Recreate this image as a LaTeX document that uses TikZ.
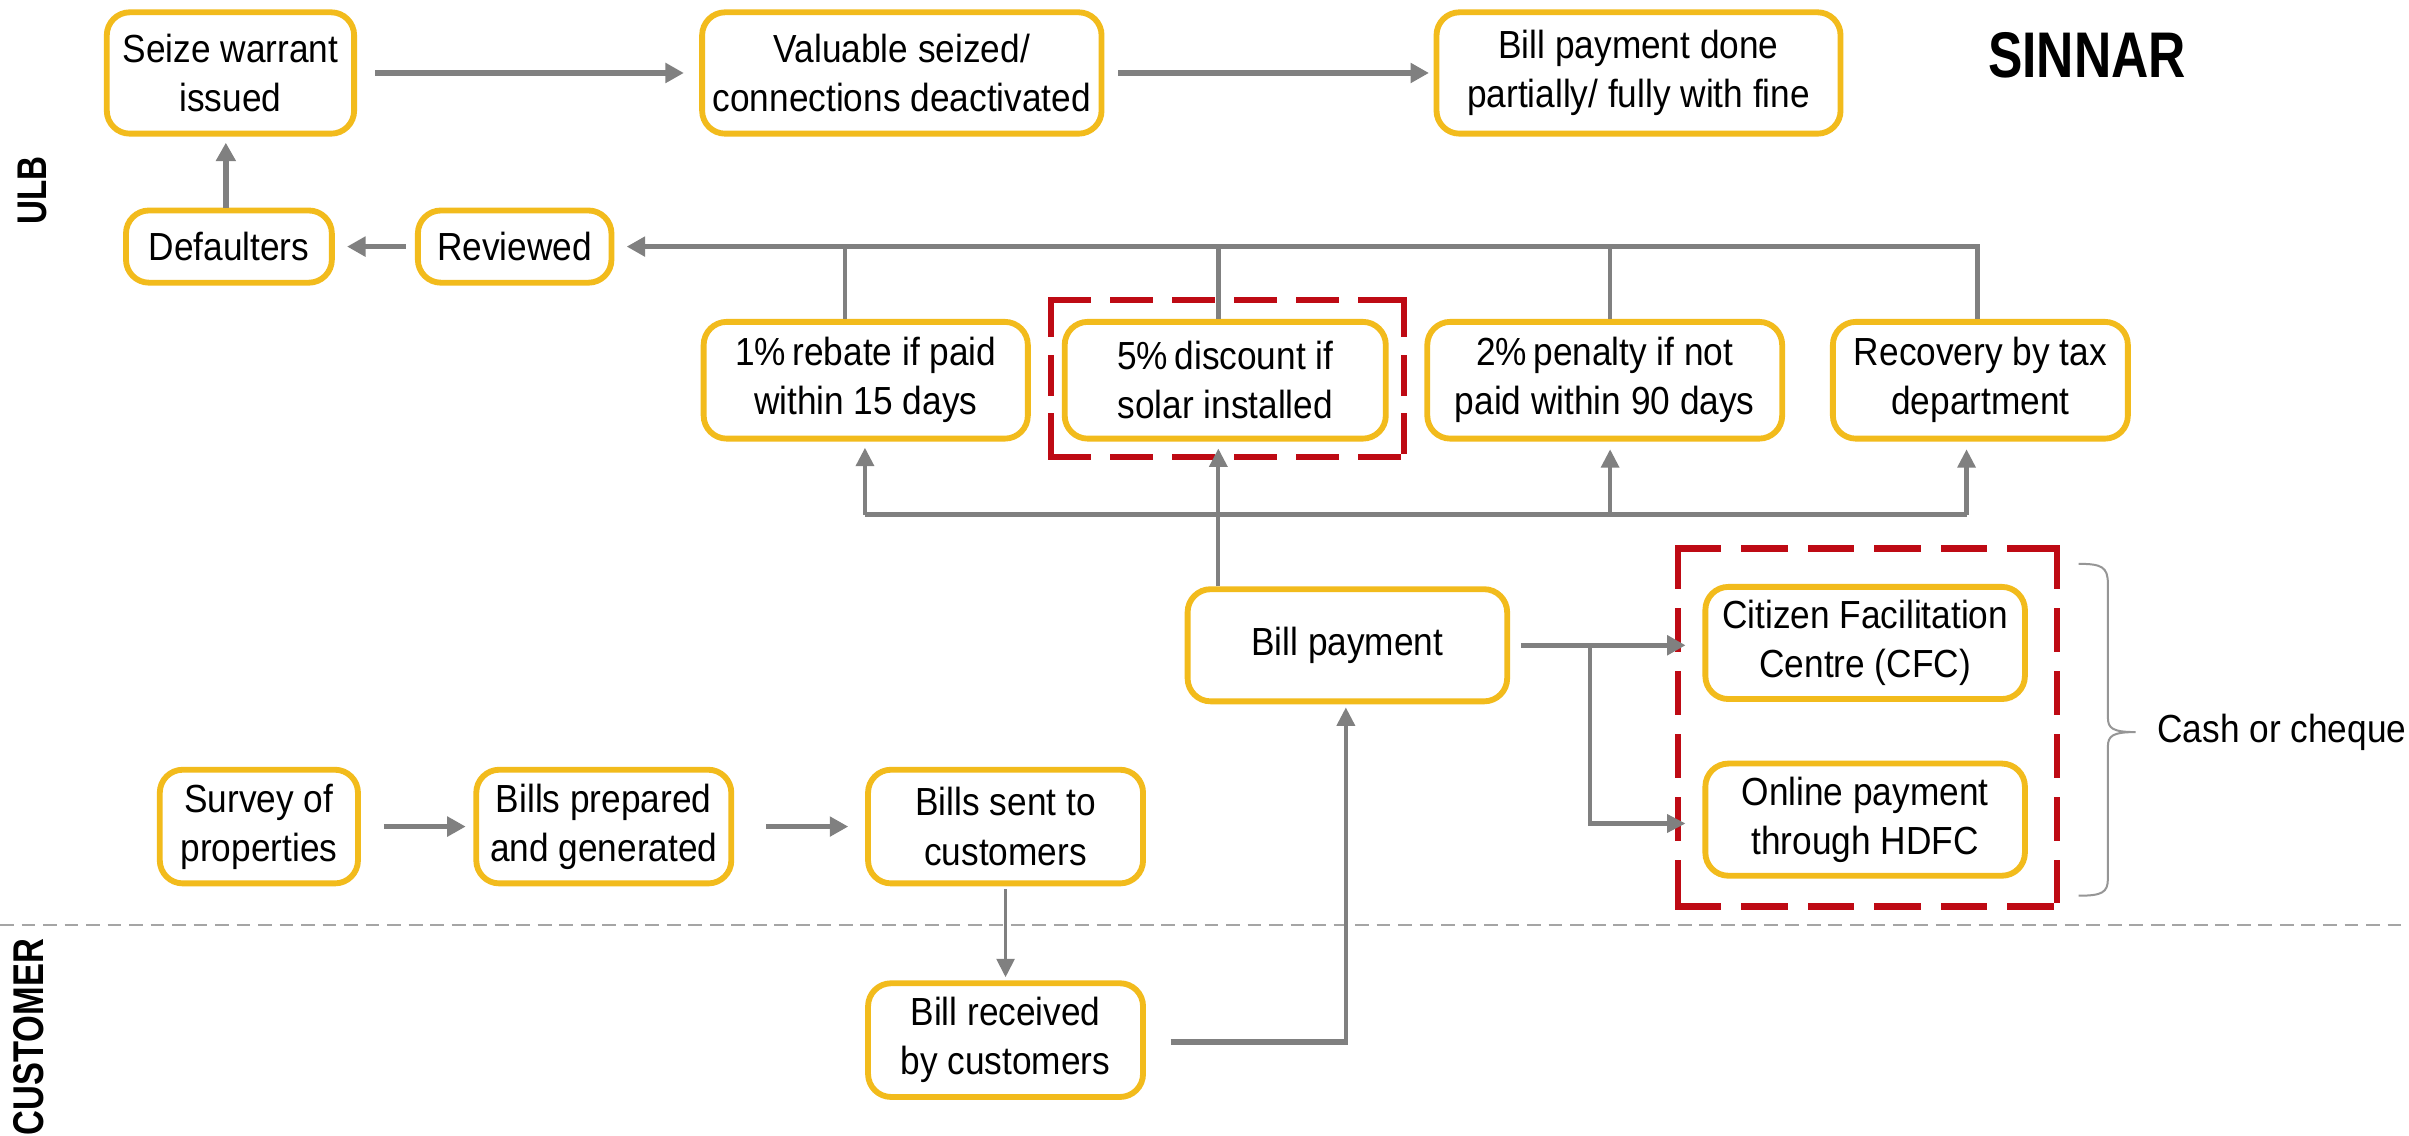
\documentclass[tikz,border=0pt]{standalone}
\usepackage{fontspec}
\setmainfont{Liberation Sans}[FakeStretch=0.9]
\newfontfamily\lblfont{Liberation Sans}[FakeStretch=0.8]
\usetikzlibrary{arrows.meta}
\definecolor{boxyel}{RGB}{242,187,28}
\definecolor{dred}{RGB}{190,10,20}
\definecolor{agray}{RGB}{128,128,128}
\definecolor{sgray}{RGB}{165,165,165}
\definecolor{bgray}{RGB}{150,150,150}
\begin{document}
\begin{tikzpicture}[x=1pt,y=-1pt,
  box/.style={draw=boxyel, line width=3.8pt, rounded corners=15pt, fill=white, align=center, inner sep=0pt, font=\fontsize{25.5}{32}\selectfont},
  garrow/.style={draw=agray, line width=3.6pt, -{Triangle[length=12pt,width=12.5pt]}},
  garrowthin/.style={draw=agray, line width=2.8pt, -{Triangle[length=12pt,width=11.5pt]}},
  gline/.style={draw=agray, line width=3.4pt},
  reddash/.style={draw=dred, line width=4pt, line cap=rect},
  lbl/.style={font=\lblfont\bfseries\fontsize{30}{30}\selectfont},
  txt/.style={font=\fontsize{25.5}{32}\selectfont},
]
\fill[white] (0,0) rectangle (1568,739);
\useasboundingbox (0,0) rectangle (1568,739);

% lane separator
\draw[sgray, line width=1.5pt, dash pattern=on 9pt off 5pt] (0,602) -- (1568,602);

% lane labels and title
\node[rotate=90, font=\lblfont\bfseries\fontsize{27}{27}\selectfont] (ulb) at (21,124) {ULB};
\node[rotate=90, font=\lblfont\bfseries\fontsize{28}{28}\selectfont] (cust) at (19,675) {CUSTOMER};
\node[font=\lblfont\bfseries\fontsize{42}{42}\selectfont] (title) at (1358.5,36) {SINNAR};

% red dashed highlight frames (each side starts and ends with a dash)
\draw[reddash, dash pattern=on 24.2pt off 16.2pt] (684,195) -- (914,195);
\draw[reddash, dash pattern=on 24.2pt off 16.2pt] (684,297.5) -- (914,297.5);
\draw[reddash, dash pattern=on 22.5pt off 15.5pt] (684,195) -- (684,297.5);
\draw[reddash, dash pattern=on 22.5pt off 15.5pt] (914,195) -- (914,297.5);
\draw[reddash, dash pattern=on 26.2pt off 17.1pt] (1092,357) -- (1339,357);
\draw[reddash, dash pattern=on 26.2pt off 17.1pt] (1092,590) -- (1339,590);
\draw[reddash, dash pattern=on 24.5pt off 16.4pt] (1092,357) -- (1092,590);
\draw[reddash, dash pattern=on 24.5pt off 16.4pt] (1339,357) -- (1339,590);

% nodes
\node[box, minimum width=161pt, minimum height=79pt] (seize) at (150,47.5) {Seize warrant\\issued};
\node[box, minimum width=260pt, minimum height=79pt] (valuable) at (587,47.5) {Valuable seized/\\connections deactivated};
\node[box, minimum width=263pt, minimum height=79pt] (billdone) at (1066.5,47.5) {Bill payment done\\partially/ fully with fine};
\node[box, minimum width=134pt, minimum height=47pt] (defaulters) at (149,160.5) {Defaulters};
\node[box, minimum width=126pt, minimum height=47pt] (reviewed) at (335,160.5) {Reviewed};
\node[box, minimum width=211pt, minimum height=76pt] (rebate) at (563.5,247.5) {1\%\,rebate if paid\\within 15 days};
\node[box, minimum width=209pt, minimum height=76pt] (discount) at (797.5,247.5) {5\%\,discount if\\solar installed};
\node[box, minimum width=231pt, minimum height=76pt] (penalty) at (1044.5,247.5) {2\%\,penalty if not\\paid within 90 days};
\node[box, minimum width=192pt, minimum height=76pt] (recovery) at (1289,247.5) {Recovery by tax\\department};
\node[box, minimum width=208pt, minimum height=73pt] (billpay) at (877,420) {Bill payment};
\node[box, minimum width=208pt, minimum height=73pt] (cfc) at (1214,418.5) {Citizen Facilitation\\Centre (CFC)};
\node[box, minimum width=208pt, minimum height=73pt] (online) at (1214,533.5) {Online payment\\through HDFC};
\node[box, minimum width=129pt, minimum height=74pt] (survey) at (168.5,538) {Survey of\\properties};
\node[box, minimum width=166pt, minimum height=74pt] (prepared) at (393,538) {Bills prepared\\and generated};
\node[box, minimum width=179pt, minimum height=74pt] (sent) at (654.5,538) {Bills sent to\\customers};
\node[box, minimum width=179pt, minimum height=74pt] (received) at (654.5,677) {Bill received\\by customers};

% brace and its label
\draw[bgray, line width=1.3pt] (1353,367) .. controls (1368,367) and (1372,369) .. (1372,380) -- (1372,467) .. controls (1372,474) and (1375,476.5) .. (1390,476.5) .. controls (1375,476.5) and (1372,479) .. (1372,486) -- (1372,572) .. controls (1372,581) and (1368,583) .. (1353,583);
\node[txt, anchor=west, inner sep=0pt] (cash) at (1404,477) {Cash or cheque};

% top row
\draw[garrow, shorten <=12pt, shorten >=10pt] (seize.east) -- (valuable.west);
\draw[garrow, shorten <=9pt, shorten >=3pt] (valuable.east) -- (billdone.west);
\draw[garrow, shorten >=4pt] ([xshift=-2pt]defaulters.north) -- ([xshift=-2pt]defaulters.north |- seize.south);
\draw[garrow, shorten <=6pt, shorten >=8pt] (reviewed.west) -- (defaulters.east);

% collector bus to Reviewed
\draw[garrow, line width=3.4pt, shorten >=8pt] ([xshift=-2pt]recovery.north) |- (reviewed.east);
\draw[gline, line width=2.9pt] ([xshift=-13.5pt]rebate.north) -- ([xshift=-13.5pt]rebate.north |- reviewed.east);
\draw[gline, line width=2.9pt] ([xshift=-4.5pt]discount.north) -- ([xshift=-4.5pt]discount.north |- reviewed.east);
\draw[gline, line width=2.9pt] ([xshift=3.5pt]penalty.north) -- ([xshift=3.5pt]penalty.north |- reviewed.east);

% distribution bus from Bill payment
\coordinate (busL) at (563,335);
\coordinate (busR) at (1280,335);
\draw[gline] (busL) -- (busR);
\draw[garrowthin, shorten >=4pt] (busL) -- (busL |- rebate.south);
\draw[garrowthin, shorten >=5pt] ([xshift=3.5pt]penalty.south |- busL) -- ([xshift=3.5pt]penalty.south);
\draw[garrowthin, shorten >=5pt] (busR) -- (busR |- recovery.south);
\draw[garrowthin, shorten >=4.5pt] ([xshift=-84pt]billpay.north) -- ([xshift=-84pt]billpay.north |- discount.south);

% payment channels
\coordinate (br) at (1035,420);
\draw[garrow, shorten <=7pt, shorten >=11pt] (billpay.east) -- (billpay.east -| cfc.west);
\draw[garrowthin, shorten >=11pt] (br) |- ([yshift=-2.5pt]online.west);

% bottom flow
\draw[garrow, shorten <=15pt, shorten >=5pt] (survey.east) -- (prepared.west);
\draw[garrow, shorten <=21pt, shorten >=11pt] (prepared.east) -- (sent.west);
\draw[garrowthin, line width=2.4pt, shorten <=2pt, shorten >=2pt] (sent.south) -- (received.north);
\coordinate (rc) at (876,678);
\draw[gline, line width=3.8pt, shorten <=16pt] ([yshift=-1pt]received.east) -- (rc);
\draw[garrowthin, shorten >=2pt] ([yshift=-1.9pt]rc) -- (rc |- billpay.south);
\end{tikzpicture}
\end{document}
